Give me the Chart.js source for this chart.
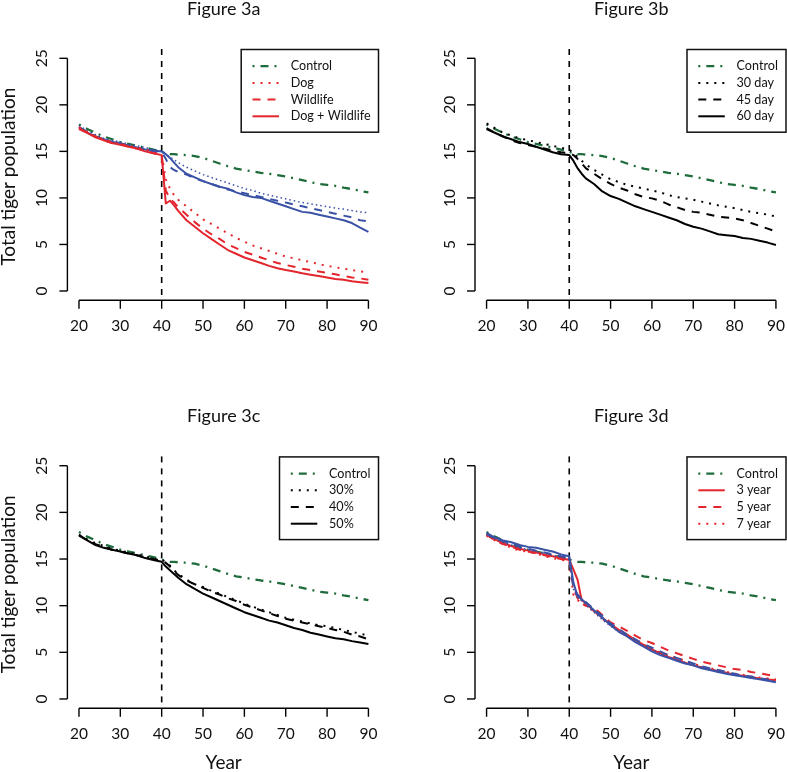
<!DOCTYPE html>
<html><head><meta charset="utf-8">
<script src="https://cdn.jsdelivr.net/npm/chart.js@4.4.1/dist/chart.umd.min.js"></script>
<style>
html,body{margin:0;padding:0;background:#fff;overflow:hidden;width:787px;height:772px;position:relative}
canvas{position:absolute;display:block}
</style></head><body>
<canvas id="cA" width="393" height="390" style="left:0px;top:0px"></canvas>
<canvas id="cB" width="407" height="390" style="left:393px;top:0px"></canvas>
<canvas id="cC" width="393" height="382" style="left:0px;top:390px"></canvas>
<canvas id="cD" width="407" height="382" style="left:393px;top:390px"></canvas>
<script>
// ---------- DATA ----------
const years = [20,22,24,26,28,30,32,34,36,38,40,41,42,43,44,46,48,50,52,54,56,58,60,62,64,66,68,70,72,74,76,78,80,82,84,86,88,90];
const yTicks = [0,5,10,15,20,25];
const xTicks = [20,30,40,50,60,70,80,90];
const interventionYear = 40;

const control = [17.9,17.4,17.0,16.6,16.3,16.0,15.8,15.6,15.4,15.2,14.95, 14.8,14.7,14.7, 14.65,14.6,14.5,14.3,14.0,13.7,13.4,13.15,13.0,12.85,12.7,12.6,12.45,12.3,12.1,11.9,11.7,11.5,11.4,11.3,11.1,10.95,10.75,10.6];

// Figure 3a
const aDog = [17.6,17.1,16.6,16.3,16.0,15.8,15.6,15.4,15.2,14.9,14.6, 12.0,11.0,10.3, 9.8,9.1,8.4,7.7,7.2,6.7,6.2,5.7,5.3,4.9,4.6,4.3,4.0,3.7,3.5,3.3,3.1,2.9,2.7,2.55,2.4,2.25,2.1,2.0];
const aWildlife = [17.5,17.0,16.6,16.2,15.9,15.8,15.5,15.3,15.1,14.8,14.6, 10.8,9.9,9.5, 9.0,8.2,7.4,6.7,6.1,5.6,5.0,4.6,4.2,3.9,3.6,3.3,3.0,2.8,2.6,2.4,2.25,2.1,1.95,1.8,1.6,1.45,1.35,1.2];
const aDogWildlife = [17.4,17.0,16.5,16.2,15.9,15.7,15.5,15.3,15.0,14.8,14.6, 9.4,9.7,9.2, 8.6,7.6,6.9,6.2,5.6,5.0,4.4,4.0,3.6,3.3,3.0,2.7,2.45,2.25,2.1,1.9,1.75,1.6,1.45,1.3,1.2,1.05,0.95,0.85];
const aBlueDotted = [17.8,17.2,16.8,16.4,16.2,16.0,15.8,15.6,15.4,15.2,15.0, 14.7,14.4,14.1, 13.8,13.3,12.9,12.5,12.2,11.9,11.6,11.3,11.0,10.8,10.5,10.3,10.1,9.9,9.7,9.5,9.35,9.2,9.05,8.9,8.8,8.65,8.5,8.4];
const aBlueDashed = [17.6,17.1,16.6,16.3,16.0,15.8,15.6,15.4,15.2,15.0,14.9, 14.2,13.3,13.0, 12.8,12.5,12.1,11.8,11.5,11.2,10.9,10.7,10.5,10.3,10.1,9.9,9.7,9.5,9.3,9.1,8.9,8.7,8.5,8.3,8.1,7.9,7.6,7.5];
const aBlueSolid = [17.6,17.0,16.6,16.3,16.0,15.9,15.6,15.4,15.2,15.1,15.0, 14.7,14.3,13.8, 13.3,12.6,12.2,11.8,11.5,11.2,11.0,10.6,10.3,10.1,10.0,9.7,9.4,9.1,8.8,8.5,8.4,8.2,8.0,7.8,7.6,7.3,6.8,6.35];

// Figure 3b
const b30day = [18.0,17.5,17.0,16.7,16.4,16.2,16.0,15.8,15.6,15.4,15.2, 14.8,14.4,14.0, 13.6,13.0,12.5,12.0,11.7,11.4,11.2,11.0,10.8,10.6,10.3,10.1,9.95,9.8,9.6,9.4,9.2,9.05,8.9,8.7,8.5,8.35,8.2,8.0];
const b45day = [17.5,17.0,16.6,16.2,15.9,15.7,15.5,15.3,15.1,14.9,14.8, 14.6,14.2,13.7, 13.2,12.6,12.0,11.5,11.1,10.8,10.4,10.1,9.95,9.7,9.3,9.0,8.7,8.5,8.4,8.2,8.0,7.9,7.8,7.6,7.3,7.0,6.7,6.4];
const b60day = [17.4,17.0,16.6,16.3,16.0,15.8,15.5,15.2,14.9,14.7,14.6, 14.0,13.2,12.6, 12.1,11.5,10.7,10.2,9.9,9.5,9.1,8.8,8.5,8.2,7.9,7.6,7.2,6.9,6.7,6.4,6.1,6.0,5.9,5.7,5.6,5.4,5.2,4.95];

// Figure 3c
const c30 = [17.6,17.1,16.7,16.4,16.1,15.9,15.7,15.5,15.3,15.0,14.9, 14.7,14.3,13.8, 13.4,12.8,12.3,12.0,11.6,11.3,10.9,10.6,10.2,9.9,9.6,9.3,9.0,8.7,8.5,8.3,8.1,7.9,7.8,7.6,7.4,7.2,7.0,6.8];
const c40 = [17.5,17.0,16.6,16.3,16.0,15.8,15.6,15.4,15.2,15.0,14.8, 14.6,14.2,13.7, 13.3,12.7,12.3,11.9,11.5,11.2,10.8,10.5,10.1,9.8,9.5,9.2,8.9,8.6,8.4,8.2,8.0,7.8,7.6,7.4,7.2,6.9,6.7,6.4];
const c50 = [17.6,17.0,16.5,16.2,16.0,15.8,15.6,15.4,15.1,14.9,14.7, 14.2,13.8,13.4, 13.0,12.3,11.8,11.3,10.9,10.5,10.1,9.7,9.3,9.0,8.7,8.4,8.2,7.9,7.6,7.4,7.1,6.9,6.7,6.5,6.4,6.2,6.05,5.9];

// Figure 3d
const d3year = [17.6,17.1,16.7,16.4,16.1,15.9,15.7,15.5,15.3,15.1,14.9, 13.9,12.8,10.6, 10.3,9.4,8.7,8.0,7.4,6.9,6.3,5.8,5.3,4.9,4.5,4.2,3.9,3.6,3.4,3.15,3.0,2.8,2.6,2.5,2.35,2.2,2.1,2.0];
const d5year = [17.6,17.0,16.6,16.3,16.0,15.8,15.6,15.4,15.2,15.0,14.9, 12.0,10.8,10.2, 10.0,9.8,9.0,8.2,7.8,7.3,6.8,6.3,6.0,5.6,5.2,4.9,4.6,4.3,4.0,3.8,3.6,3.4,3.2,3.1,2.9,2.75,2.6,2.4];
const d7year = [17.5,17.0,16.6,16.2,15.9,15.8,15.6,15.3,15.1,14.9,14.8, 11.2,10.6,10.3, 10.0,9.4,8.6,7.9,7.3,6.8,6.3,5.8,5.4,5.0,4.7,4.4,4.1,3.8,3.5,3.3,3.1,2.9,2.7,2.6,2.4,2.3,2.2,2.1];
const dBlueSolid = [17.8,17.3,17.0,16.8,16.5,16.3,16.2,16.0,15.8,15.5,15.3, 12.5,11.0,10.7, 10.3,9.5,8.7,7.9,7.2,6.7,6.1,5.6,5.1,4.7,4.4,4.1,3.8,3.6,3.3,3.1,2.9,2.7,2.55,2.4,2.25,2.1,1.95,1.8];
const dBlueDashed = [17.7,17.2,16.9,16.6,16.3,16.1,15.9,15.7,15.5,15.3,15.1, 12.0,11.2,10.8, 10.4,9.6,8.9,8.1,7.5,6.9,6.4,5.9,5.5,5.1,4.7,4.4,4.1,3.8,3.5,3.3,3.1,2.9,2.7,2.5,2.4,2.2,2.1,2.0];
const dBlueDotted = [17.7,17.2,16.8,16.5,16.2,16.0,15.8,15.6,15.4,15.2,15.0, 11.8,10.9,10.5, 10.1,9.3,8.5,7.8,7.2,6.7,6.2,5.7,5.3,4.9,4.5,4.2,3.9,3.6,3.4,3.2,3.0,2.8,2.6,2.45,2.3,2.15,2.0,1.9];

// ---------- STYLE ----------
const FONT = 'Lato, "Open Sans", sans-serif';
const GREEN = '#1e6b3c', RED = '#e3262d', BLUE = '#3a52a5', BLACK = '#000000';
const STY = {
  dotdash: {w: 2.3, dash: [2, 6, 8, 6]},
  dotted:  {w: 2,   dash: [2, 6]},
  fine:    {w: 1.5, dash: [1.5, 3]},
  dashed:  {w: 2,   dash: [8, 7]},
  solid:   {w: 2,   dash: []}
};

// legend font sized so the longest label spans the width seen in the reference
let LEGEND_PX = 13.5;
(function () {
  const c = document.createElement('canvas').getContext('2d');
  c.font = '14px ' + FONT;
  const m = c.measureText('Dog + Wildlife').width;
  if (m > 0) LEGEND_PX = Math.min(14.5, 14 * 80 / m);
})();

function ds(label, values, color, style, inLegend) {
  const s = STY[style];
  return {
    label, data: years.map((x, i) => ({x, y: values[i]})),
    borderColor: color, borderWidth: s.w, borderDash: s.dash,
    borderCapStyle: 'butt', borderJoinStyle: 'round',
    pointRadius: 0, tension: 0, fill: false,
    _style: style, _legend: inLegend
  };
}

const rPlugin = {
  id: 'rbase',
  beforeDatasetsDraw(chart, args, o) {
    const ctx = chart.ctx, a = chart.chartArea, xs = chart.scales.x;
    const px = xs.getPixelForValue(interventionYear);
    ctx.save();
    ctx.strokeStyle = BLACK; ctx.lineWidth = 1.6; ctx.setLineDash([6, 6]);
    ctx.beginPath(); ctx.moveTo(px, a.top); ctx.lineTo(px, a.bottom); ctx.stroke();
    ctx.restore();
  },
  afterDraw(chart, args, o) {
    const ctx = chart.ctx, a = chart.chartArea, xs = chart.scales.x, ys = chart.scales.y;
    ctx.save();
    ctx.strokeStyle = BLACK; ctx.fillStyle = '#111'; ctx.lineWidth = 1.4; ctx.setLineDash([]);
    // y axis
    const y0 = ys.getPixelForValue(yTicks[0]), y1 = ys.getPixelForValue(yTicks[yTicks.length - 1]);
    ctx.beginPath(); ctx.moveTo(a.left, y0); ctx.lineTo(a.left, y1); ctx.stroke();
    ctx.font = '15.5px ' + FONT; ctx.textAlign = 'center'; ctx.textBaseline = 'middle';
    yTicks.forEach(v => {
      const py = ys.getPixelForValue(v);
      ctx.beginPath(); ctx.moveTo(a.left - 8, py); ctx.lineTo(a.left, py); ctx.stroke();
      ctx.save(); ctx.translate(a.left - 25, py); ctx.rotate(-Math.PI / 2);
      ctx.fillText(String(v), 0, 0); ctx.restore();
    });
    // x axis
    const x0 = xs.getPixelForValue(xTicks[0]), x1 = xs.getPixelForValue(xTicks[xTicks.length - 1]);
    ctx.beginPath(); ctx.moveTo(x0, a.bottom); ctx.lineTo(x1, a.bottom); ctx.stroke();
    xTicks.forEach(v => {
      const px = xs.getPixelForValue(v);
      ctx.beginPath(); ctx.moveTo(px, a.bottom); ctx.lineTo(px, a.bottom + 8.5); ctx.stroke();
      ctx.fillText(String(v), px, a.bottom + 25.5);
    });
    // title
    const cx = (a.left + a.right) / 2;
    ctx.font = '18px ' + FONT; ctx.fillStyle = '#111';
    ctx.fillText(o.title, cx, a.top - 40);
    ctx.font = '19px ' + FONT;
    if (o.xLabel) ctx.fillText(o.xLabel, cx, a.bottom + 55);
    if (o.yLabel) {
      ctx.save(); ctx.translate(9, (a.top + a.bottom) / 2 + 2); ctx.rotate(-Math.PI / 2);
      ctx.fillText(o.yLabel, 0, 0); ctx.restore();
    }
    // legend
    const items = chart.data.datasets.filter(d => d._legend).sort((p, q) => p._legend - q._legend);
    const w = o.legendWidth, h = 82.7;
    const lx = a.right - 1.5 - w, ly = a.top + 0.5;
    ctx.fillStyle = '#fff'; ctx.fillRect(lx, ly, w, h);
    ctx.lineWidth = 1.5; ctx.strokeStyle = '#111';
    ctx.strokeRect(lx, ly, w, h);
    ctx.font = LEGEND_PX + 'px ' + FONT; ctx.textAlign = 'left'; ctx.fillStyle = '#111';
    items.forEach((d, i) => {
      const iy = ly + 16.7 * (i + 1);
      ctx.save();
      ctx.strokeStyle = d.borderColor; ctx.lineWidth = d.borderWidth; ctx.setLineDash(d.borderDash); ctx.lineCap = 'butt';
      ctx.beginPath(); ctx.moveTo(lx + 11.3, iy); ctx.lineTo(lx + 37.8, iy); ctx.stroke();
      ctx.restore();
      ctx.fillText(d.label, lx + 49.5, iy);
    });
    ctx.restore();
  }
};

function makeChart(id, datasets, opt, pad) {
  return new Chart(document.getElementById(id), {
    type: 'line',
    data: {datasets},
    options: {
      responsive: false, animation: false, devicePixelRatio: 1,
      layout: {padding: pad},
      scales: {
        x: {type: 'linear', min: 17.2, max: 92.8, display: false},
        y: {type: 'linear', min: -1, max: 26, display: false}
      },
      plugins: {legend: {display: false}, tooltip: {enabled: false}, rbase: opt}
    },
    plugins: [rPlugin]
  });
}

const padTop = {left: 67.4, top: 49, right: 13, bottom: 89.7};
const padTopR = {left: 82, top: 49, right: 12.5, bottom: 89.7};
const padBot = {left: 67.4, top: 66.4, right: 13, bottom: 63.7};
const padBotR = {left: 82, top: 66.4, right: 12.5, bottom: 63.7};

makeChart('cA', [
  ds('Dog + Wildlife', aDogWildlife, RED, 'solid', 4),
  ds('Wildlife', aWildlife, RED, 'dashed', 3),
  ds('Dog', aDog, RED, 'dotted', 2),
  ds('', aBlueSolid, BLUE, 'solid', 0),
  ds('', aBlueDashed, BLUE, 'dashed', 0),
  ds('', aBlueDotted, BLUE, 'fine', 0),
  ds('Control', control, GREEN, 'dotdash', 1)
], {title: 'Figure 3a', yLabel: 'Total tiger population', legendWidth: 137.3}, padTop);

makeChart('cB', [
  ds('60 day', b60day, BLACK, 'solid', 4),
  ds('45 day', b45day, BLACK, 'dashed', 3),
  ds('30 day', b30day, BLACK, 'dotted', 2),
  ds('Control', control, GREEN, 'dotdash', 1)
], {title: 'Figure 3b', legendWidth: 99}, padTopR);

makeChart('cC', [
  ds('50%', c50, BLACK, 'solid', 4),
  ds('40%', c40, BLACK, 'dashed', 3),
  ds('30%', c30, BLACK, 'dotted', 2),
  ds('Control', control, GREEN, 'dotdash', 1)
], {title: 'Figure 3c', yLabel: 'Total tiger population', xLabel: 'Year', legendWidth: 99}, padBot);

makeChart('cD', [
  ds('', dBlueSolid, BLUE, 'solid', 0),
  ds('', dBlueDashed, BLUE, 'dashed', 0),
  ds('', dBlueDotted, BLUE, 'fine', 0),
  ds('3 year', d3year, RED, 'solid', 2),
  ds('5 year', d5year, RED, 'dashed', 3),
  ds('7 year', d7year, RED, 'dotted', 4),
  ds('Control', control, GREEN, 'dotdash', 1)
], {title: 'Figure 3d', xLabel: 'Year', legendWidth: 99}, padBotR);
</script>
</body></html>
